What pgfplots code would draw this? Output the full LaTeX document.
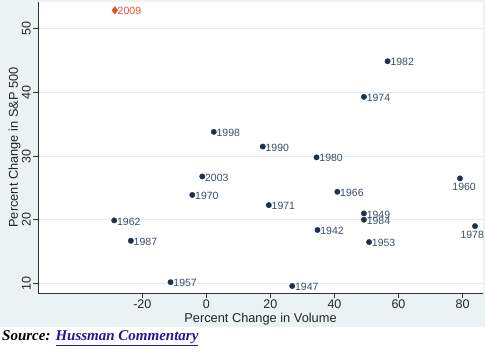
\documentclass[border=0pt]{standalone}
\usepackage{pgfplots}
\pgfplotsset{compat=1.18}
\usepackage{fontspec}
\setmainfont{Liberation Sans}
\newfontfamily\serifsrc{Liberation Serif}
\definecolor{graphbg}{RGB}{234,242,243}
\definecolor{gridc}{RGB}{228,236,238}
\definecolor{mk}{RGB}{30,50,78}
\definecolor{lbl}{RGB}{60,78,102}
\definecolor{orng}{RGB}{226,82,42}
\definecolor{linkc}{RGB}{40,20,150}
\begin{document}
\begin{tikzpicture}[x=1pt,y=1pt]
\path[use as bounding box] (0,0) rectangle (485,356);
\fill[graphbg] (0,29) rectangle (485,356);
\begin{axis}[
  at={(38pt,63pt)}, anchor=south west,
  scale only axis, width=445pt, height=291pt,
  xmin=-52.6, xmax=86.4, ymin=8.5, ymax=54.2,
  axis background/.style={fill=white},
  axis lines*=left, axis line style={-, black!80, line width=0.8pt},
  xtick={-20,0,20,40,60,80}, ytick={10,20,30,40,50},
  tick align=outside, major tick length=5pt,
  tick style={black!80, line width=0.6pt},
  ymajorgrids, grid style={gridc, line width=0.8pt},
  ticklabel style={font=\fontsize{12.5}{14}\selectfont, text=black!85},
  /pgf/number format/assume math mode=true,
  yticklabel style={rotate=90, anchor=south, inner sep=2pt},
  xticklabel style={inner sep=2pt},
  xlabel={Percent Change in Volume},
  ylabel={Percent Change in S\&P 500},
  label style={font=\fontsize{12.8}{14}\selectfont, text=black!85},
  xlabel style={yshift=1pt},
  ylabel style={yshift=-4pt},
  clip=false,
  nodes near coords, point meta=explicit symbolic,
  every node near coord/.append style={font=\fontsize{10.5}{12}\selectfont, text=lbl, anchor=west, inner sep=1.5pt, xshift=1.2pt, yshift=-1pt},
]
\addplot[only marks, mark=*, mark size=2.7pt, mark options={fill=mk, draw=mk}] table[meta=lab] {
x y lab
2.3 33.8 1998
56.6 44.9 1982
49.2 39.3 1974
17.6 31.5 1990
34.4 29.8 1980
40.9 24.4 1966
19.5 22.3 1971
49.2 21.0 1949
49.2 20.0 1984
34.7 18.4 1942
50.8 16.5 1953
26.8 9.6 1947
-1.3 26.8 2003
-4.4 23.9 1970
-28.8 19.9 1962
-23.6 16.7 1987
-11.2 10.2 1957
};
\addplot[only marks, mark=*, mark size=2.7pt, mark options={fill=mk, draw=mk},
  every node near coord/.append style={anchor=north, xshift=3pt, yshift=-2pt}] table[meta=lab] {
x y lab
79.2 26.5 1960
};
\addplot[only marks, mark=*, mark size=2.7pt, mark options={fill=mk, draw=mk},
  every node near coord/.append style={anchor=north, xshift=-4pt, yshift=-2pt}] table[meta=lab] {
x y lab
83.9 19.0 1978
};
\addplot[only marks, mark=diamond*, mark size=3.8pt, mark options={fill=orng, draw=orng},
  every node near coord/.append style={text=orng}] table[meta=lab] {
x y lab
-28.6 52.9 2009
};
\end{axis}
\node[anchor=west, inner sep=0pt] at (2,18) {\serifsrc\fontsize{15}{17}\selectfont\bfseries\itshape Source: \textcolor{linkc}{\underline{Hussman Commentary}}};
\end{tikzpicture}
\end{document}
